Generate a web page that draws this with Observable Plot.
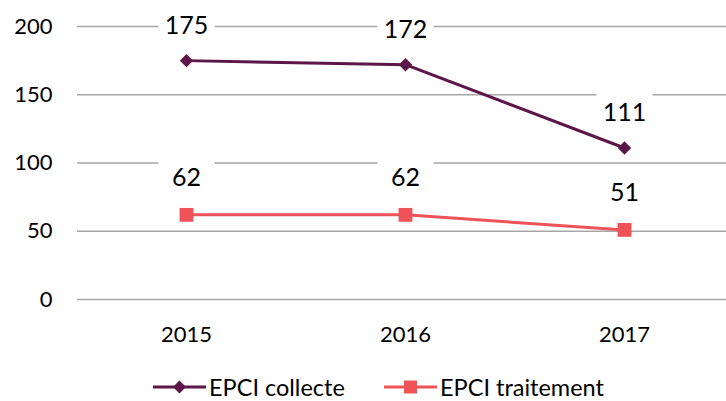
<!DOCTYPE html>
<html><head><meta charset="utf-8">
<script src="https://cdn.jsdelivr.net/npm/d3@7"></script>
<script src="https://cdn.jsdelivr.net/npm/@observablehq/plot@0.6"></script>
<style>
html,body{margin:0;padding:0;background:#fff;overflow:hidden;font-family:Lato,sans-serif;}
#legend{position:relative;height:24px;margin-top:29px;}
.item{position:absolute;top:0;display:flex;align-items:center;height:24px;line-height:24px;font-size:23.5px;color:#000;white-space:nowrap;}
.item svg{display:block;margin-right:3px;}
</style></head><body>
<div id="chart"></div>
<div id="legend"></div>
<script>
const years = ["2015", "2016", "2017"];
const collecte = [175, 172, 111];
const traitement = [62, 62, 51];
const seriesNames = ["EPCI collecte", "EPCI traitement"];
const yTicks = [0, 50, 100, 150, 200];
const colors = ["#5C1648", "#EF5357"];

const rows = (vals, name) => years.map((year, i) => ({year, value: vals[i], series: name}));
const dataC = rows(collecte, seriesNames[0]);
const dataT = rows(traitement, seriesNames[1]);
const data = [...dataC, ...dataT];

// white label background box (Excel-like data label fill)
const labelBox = {draw(ctx) { ctx.rect(-28, -22, 56, 44); }};

const plot = Plot.plot({
  width: 726, height: 346,
  marginLeft: 77, marginRight: 0, marginTop: 26, marginBottom: 47,
  style: {fontFamily: "Lato, sans-serif", fontSize: "22px", color: "#000", background: "#fff"},
  x: {type: "point", domain: years, range: [185, 624], padding: 0, label: null},
  y: {domain: [0, 200], label: null},
  color: {domain: seriesNames, range: colors},
  marks: [
    Plot.gridY(yTicks, {stroke: "#a6a6a6", strokeOpacity: 1, strokeWidth: 1.3}),
    Plot.axisY(yTicks, {tickSize: 0, tickPadding: 25, fontSize: 22, label: null}),
    Plot.axisX({tickSize: 0, tickPadding: 27, fontSize: 22, label: null}),
    Plot.dot(dataC, {x: "year", y: "value", dy: -35, symbol: labelBox, fill: "white", stroke: null}),
    Plot.dot(dataT, {x: "year", y: "value", dy: -37, symbol: labelBox, fill: "white", stroke: null}),
    Plot.text(dataC, {x: "year", y: "value", dy: -35, text: d => String(d.value), fontSize: 25, fill: "#000"}),
    Plot.text(dataT, {x: "year", y: "value", dy: -37, text: d => String(d.value), fontSize: 25, fill: "#000"}),
    Plot.line(data, {x: "year", y: "value", z: "series", stroke: "series", strokeWidth: 3}),
    Plot.dot(dataC, {x: "year", y: "value", symbol: "diamond2", r: 6, fill: "series", stroke: null}),
    Plot.dot(dataT, {x: "year", y: "value", symbol: "square", r: 7.8, fill: "series", stroke: null})
  ]
});
document.getElementById("chart").appendChild(plot);

// legend
const legend = document.getElementById("legend");
const lefts = [153, 384];
seriesNames.forEach((name, i) => {
  const item = document.createElement("div");
  item.className = "item";
  item.style.left = lefts[i] + "px";
  const marker = i === 0
    ? `<polygon points="26.5,3.5 33,10 26.5,16.5 20,10" fill="${colors[i]}"/>`
    : `<rect x="20" y="3.5" width="13" height="13" fill="${colors[i]}"/>`;
  item.innerHTML = `<svg width="53" height="20"><line x1="0" x2="53" y1="10" y2="10" stroke="${colors[i]}" stroke-width="3"/>${marker}</svg><span>${name}</span>`;
  legend.appendChild(item);
});
</script>
</body></html>
